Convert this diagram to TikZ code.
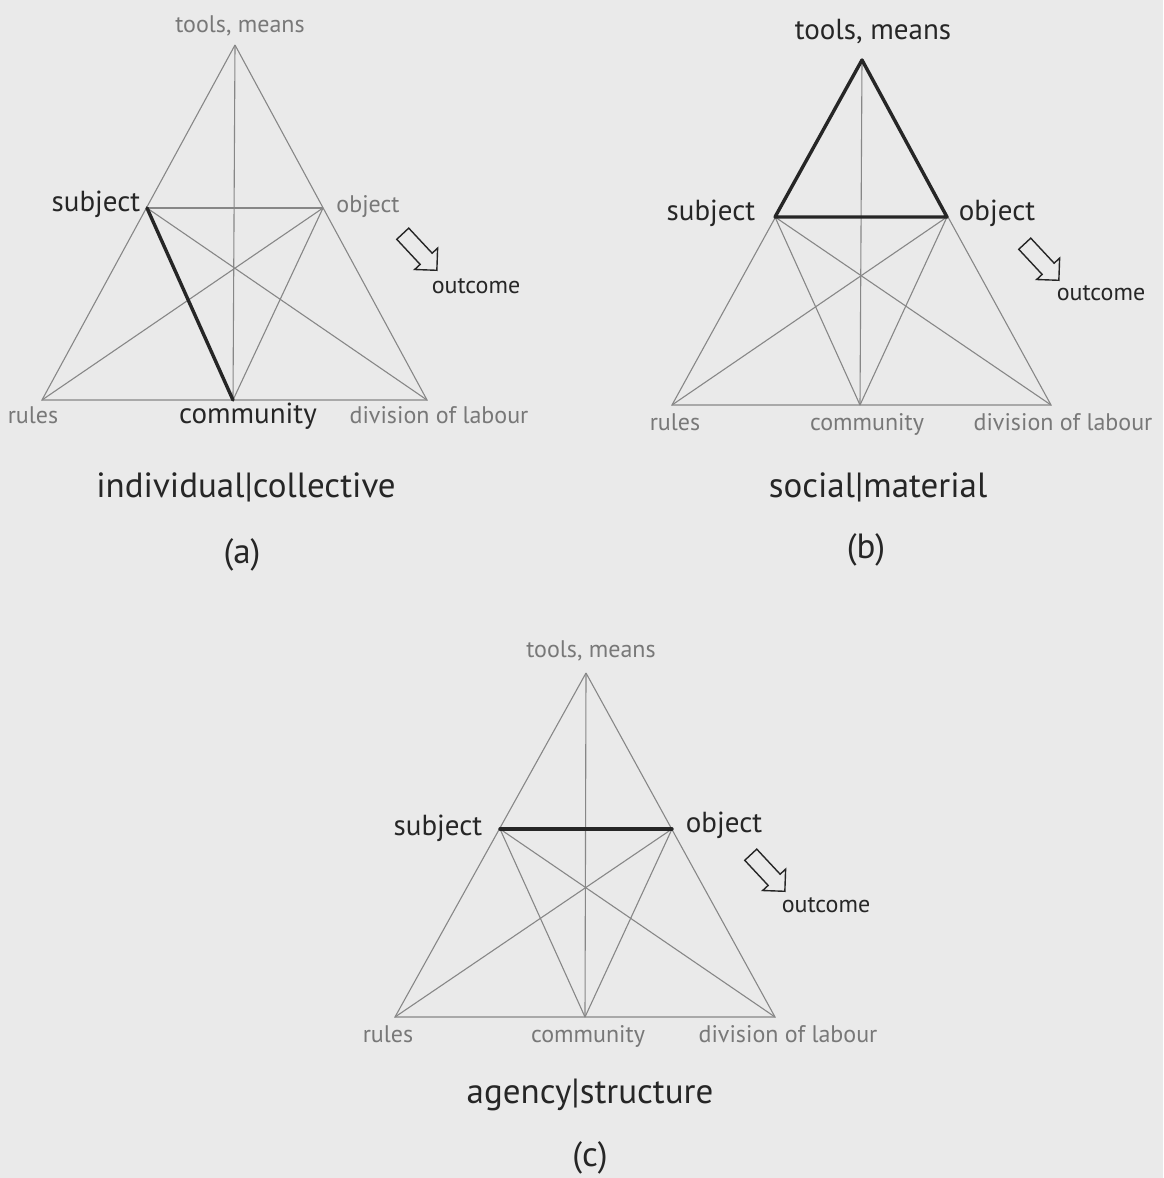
\documentclass[tikz,border=0pt]{standalone}
\usepackage{fontspec}
\setmainfont{PT Sans}
\usetikzlibrary{shapes.arrows}
\definecolor{paper}{RGB}{234,234,234}
\definecolor{lightink}{RGB}{120,120,120}
\definecolor{darkink}{RGB}{38,38,38}
\definecolor{lineink}{RGB}{135,135,135}

\begin{document}
\begin{tikzpicture}[x=1pt,y=-1pt,
  link/.style={draw=lineink,line width=1.1pt},
  boldlink/.style={draw=darkink,line width=3.4pt,line cap=round,line join=round},
  faint/.style={text=lightink,font=\fontsize{24}{28}\selectfont,inner sep=0pt,anchor=base},
  strong/.style={text=darkink,font=\fontsize{29}{34}\selectfont,inner sep=0pt,anchor=base},
  caption/.style={text=darkink,font=\fontsize{35}{42}\selectfont,inner sep=0pt,anchor=base},
  outarrow/.style={draw=darkink,line width=1.4pt,single arrow,single arrow head extend=7.5pt,
    minimum height=50pt,inner sep=7.5pt,rotate=-47}]
\fill [paper] (0,0) rectangle (1163,1178);
\useasboundingbox (0,0) rectangle (1163,1178);

% (a) individual|collective
\coordinate (a-tool) at (235,45);
\coordinate (a-subj) at (147,208);
\coordinate (a-obj) at (323,208);
\coordinate (a-rule) at (42,400);
\coordinate (a-comm) at (233,400);
\coordinate (a-div) at (427,400);
\draw [link] (a-tool)--(a-rule)--(a-div)--(a-tool);
\draw [link] (a-tool)--(a-comm);
\draw [link] (a-subj)--(a-obj);
\draw [link] (a-subj)--(a-div);
\draw [link] (a-obj)--(a-rule);
\draw [link] (a-obj)--(a-comm);
\draw [boldlink] (a-subj)--(a-comm);
\node [faint] (a-toollbl) at (240,32) {tools, means};
\node [strong] (a-subjlbl) at (96,211) {subject};
\node [faint] (a-objlbl) at (368,212) {object};
\node [outarrow] (a-arrow) at (417,249) {};
\node [faint,text=darkink] (a-outlbl) at (476,293) {outcome};
\node [faint] (a-rulelbl) at (33,423) {rules};
\node [strong] (a-commlbl) at (248,423) {community};
\node [faint] (a-divlbl) at (439,423) {division of labour};
\node [caption] (a-title) at (246,497) {individual|collective};
\node [caption] (a-tag) at (242,563) {(a)};

% (b) social|material
\coordinate (b-tool) at (862,60);
\coordinate (b-subj) at (775,217);
\coordinate (b-obj) at (947,217);
\coordinate (b-rule) at (672,405);
\coordinate (b-comm) at (860,405);
\coordinate (b-div) at (1051,405);
\draw [link] (b-tool)--(b-rule)--(b-div)--(b-tool);
\draw [link] (b-tool)--(b-comm);
\draw [link] (b-subj)--(b-comm);
\draw [link] (b-subj)--(b-div);
\draw [link] (b-obj)--(b-rule);
\draw [link] (b-obj)--(b-comm);
\draw [boldlink] (b-subj)--(b-tool)--(b-obj)--cycle;
\node [strong] (b-toollbl) at (873,39) {tools, means};
\node [strong] (b-subjlbl) at (711,220) {subject};
\node [strong] (b-objlbl) at (997,220) {object};
\node [outarrow] (b-arrow) at (1039,259) {};
\node [faint,text=darkink] (b-outlbl) at (1101,300) {outcome};
\node [faint] (b-rulelbl) at (675,430) {rules};
\node [faint] (b-commlbl) at (867,430) {community};
\node [faint] (b-divlbl) at (1063,430) {division of labour};
\node [caption] (b-title) at (878,497) {social|material};
\node [caption] (b-tag) at (866,558) {(b)};

% (c) agency|structure
\coordinate (c-tool) at (586,673);
\coordinate (c-subj) at (500,829);
\coordinate (c-obj) at (672,829);
\coordinate (c-rule) at (395,1017);
\coordinate (c-comm) at (585,1017);
\coordinate (c-div) at (775,1017);
\draw [link] (c-tool)--(c-rule)--(c-div)--(c-tool);
\draw [link] (c-tool)--(c-comm);
\draw [link] (c-subj)--(c-comm);
\draw [link] (c-subj)--(c-div);
\draw [link] (c-obj)--(c-rule);
\draw [link] (c-obj)--(c-comm);
\draw [boldlink] (c-subj)--(c-obj);
\node [faint] (c-toollbl) at (591,657) {tools, means};
\node [strong] (c-subjlbl) at (438,835) {subject};
\node [strong] (c-objlbl) at (724,832) {object};
\node [outarrow] (c-arrow) at (765,870) {};
\node [faint,text=darkink] (c-outlbl) at (826,912) {outcome};
\node [faint] (c-rulelbl) at (388,1042) {rules};
\node [faint] (c-commlbl) at (588,1042) {community};
\node [faint] (c-divlbl) at (788,1042) {division of labour};
\node [caption] (c-title) at (590,1103) {agency|structure};
\node [caption] (c-tag) at (590,1166) {(c)};

\end{tikzpicture}
\end{document}
